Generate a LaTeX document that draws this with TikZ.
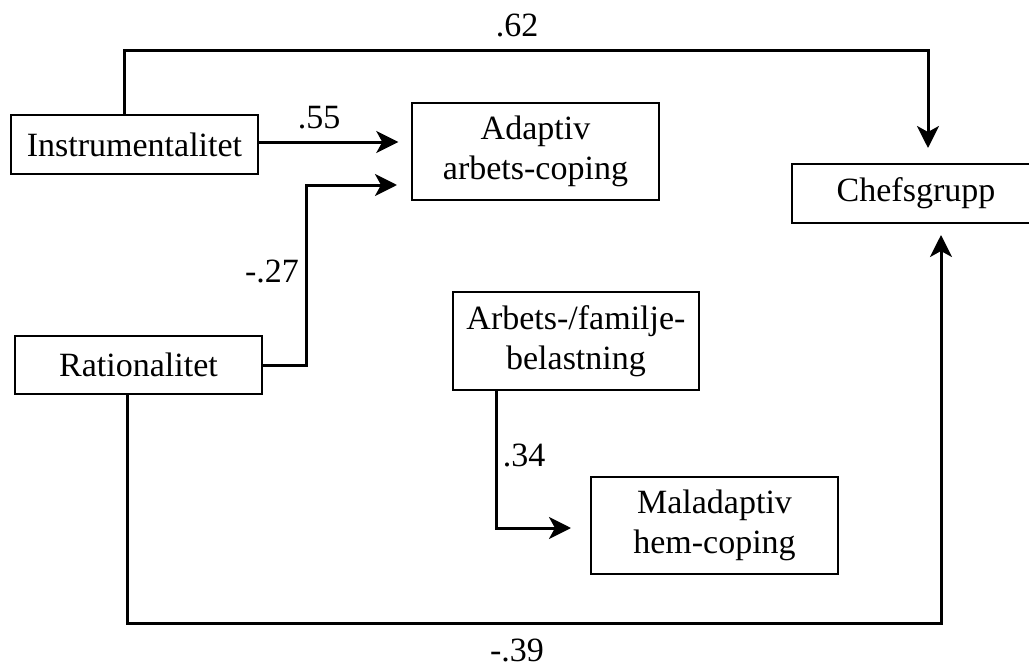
\documentclass[tikz,border=0pt]{standalone}
\usepackage{fontspec}
\setmainfont{Liberation Serif}
\usetikzlibrary{arrows.meta}
\tikzset{
  box/.style={draw, line width=1.4pt, inner sep=0pt, align=center,
    font=\fontsize{34}{40}\selectfont},
  lbl/.style={inner sep=0pt, font=\fontsize{34}{40}\selectfont},
  conn/.style={line width=3pt, -{Stealth[length=22pt,width=22pt,inset=6pt]}},
  plain/.style={line width=3pt}
}
\begin{document}
\begin{tikzpicture}[x=1pt,y=-1pt]
\useasboundingbox (0,0) rectangle (1029,669);
\clip (0,0) rectangle (1029,669);
\fill[white] (0,0) rectangle (1029,669);
% nodes
\node[box, minimum width=247pt, minimum height=59pt] (ins) at (134.5,144.5) {Instrumentalitet};
\node[box, minimum width=247pt, minimum height=58pt] (rat) at (138.5,365) {Rationalitet};
\node[box, minimum width=247pt, minimum height=97pt] (ada) at (535.5,151.5) {Adaptiv\\arbets-coping};
\node[box, minimum width=246pt, minimum height=98pt] (arb) at (576,341) {Arbets-/familje-\\belastning};
\node[box, minimum width=247pt, minimum height=97pt] (mal) at (714.5,525.5) {Maladaptiv\\hem-coping};
\node[box, minimum width=248pt, minimum height=59pt] (che) at (916,193.5) {Chefsgrupp};
% coordinates
\coordinate (insTop) at (124,115);
\coordinate (t1) at (124,51);
\coordinate (t2) at (928,51);
\coordinate (cheTopIn) at (928,164);
\coordinate (r1) at (306,365);
\coordinate (r2) at (306,185);
\coordinate (adaIn2) at (412,185);
\coordinate (ratBot) at (127,394);
\coordinate (b1) at (127,623);
\coordinate (b2) at (941,623);
\coordinate (cheBotIn) at (941,223);
\coordinate (arbBot) at (496,390);
\coordinate (a1) at (496,528);
\coordinate (malIn) at (591,528);
% connectors
\draw[conn, shorten >=16pt] (insTop) -- (t1) -- (t2) -- (cheTopIn);
\draw[conn, shorten >=13pt] (ins.east |- 0,142) -- (ada.west |- 0,142);
\draw[conn, shorten >=15pt] (rat.east) -- (r1) -- (r2) -- (adaIn2);
\draw[conn, shorten >=12pt] (ratBot) -- (b1) -- (b2) -- (cheBotIn);
\draw[conn, shorten >=20pt] (arbBot) -- (a1) -- (malIn);
% labels
\node[lbl] (l62) at (517,25) {.62};
\node[lbl] (l55) at (319,118) {.55};
\node[lbl] (l27) at (272,271) {-.27};
\node[lbl] (l34) at (524,455) {.34};
\node[lbl] (l39) at (517,650) {-.39};
\end{tikzpicture}
\end{document}
